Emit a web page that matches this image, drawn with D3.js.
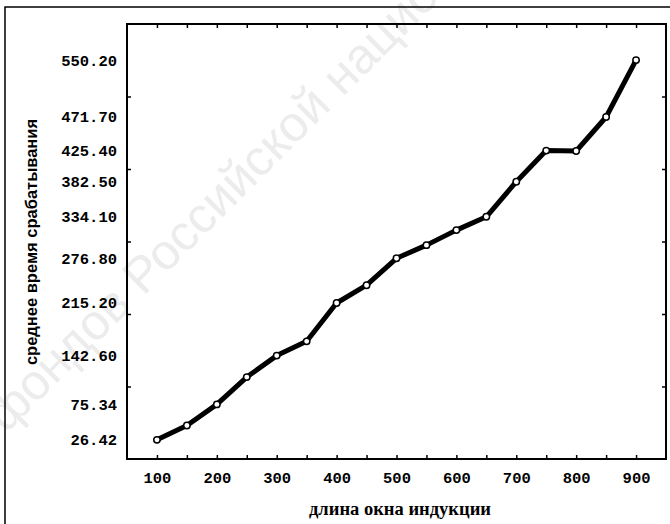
<!DOCTYPE html>
<html>
<head>
<meta charset="utf-8">
<script src="https://cdn.jsdelivr.net/npm/d3@7"></script>
<style>
	body { margin: 0; background: #fff; }
	svg { display: block; }
	.tick text { font-family: "Liberation Mono", monospace; font-weight: bold; font-size: 15.5px; fill: #000; }
	.tick line { stroke: #000; stroke-width: 1.5; }
</style>
</head>
<body>
<svg width="670" height="524"></svg>
<script>

// длина окна индукции
var winLen = [100, 150, 200, 250, 300, 350, 400, 450, 500, 550, 600, 650, 700, 750, 800, 850, 900];

// среднее время срабатывания
var avgTime = [26.42, 46.2, 75.34, 113.0, 142.60, 162.3, 215.20, 239.7, 276.80, 295.0, 315.7, 334.10, 382.50, 425.40, 424.8, 471.70, 550.20];

var yLabels = [26.42, 75.34, 142.60, 215.20, 276.80, 334.10, 382.50, 425.40, 471.70, 550.20];
var yTicks = [100, 200, 300, 400, 500];
var xLabels = [100, 200, 300, 400, 500, 600, 700, 800, 900];

var box = {
	left: 127,
	top: 24,
	right: 666,
	bottom: 459
};

var svg = d3.select("svg");

// watermark of the scan
svg.append("text")
	.attr("transform", "translate(6,434) rotate(-45)")
	.attr("font-family", "Liberation Sans, sans-serif")
	.attr("font-size", 50)
	.attr("fill", "#ececec")
	.text("фондов Российской национ");

// outer frame
svg.append("path")
	.attr("d", "M5,524 L5,7 L670,7")
	.attr("fill", "none")
	.attr("stroke", "#000")
	.attr("stroke-width", 1.5);

var x = d3.scaleLinear().domain([50, 950]).range([box.left, box.right]);
var y = d3.scaleLinear().domain([0, 600]).range([box.bottom, box.top]);

// bottom ticks + labels
svg.append("g")
	.attr("transform", `translate(0,${box.bottom})`)
	.call(d3.axisBottom(x)
		.tickValues(winLen)
		.tickSizeInner(-4)
		.tickSizeOuter(0)
		.tickPadding(13)
		.tickFormat(d => xLabels.includes(d) ? d : ""))
	.call(g => g.select(".domain").remove());

// top ticks
svg.append("g")
	.attr("transform", `translate(0,${box.top})`)
	.call(d3.axisTop(x)
		.tickValues(winLen)
		.tickSizeInner(-4)
		.tickSizeOuter(0)
		.tickFormat(""))
	.call(g => g.select(".domain").remove());

// left labels (at data values)
svg.append("g")
	.attr("transform", `translate(${box.left},0)`)
	.call(d3.axisLeft(y)
		.tickValues(yLabels)
		.tickSize(0)
		.tickPadding(10)
		.tickFormat(d3.format(".2f")))
	.call(g => g.select(".domain").remove());

// left and right ticks
svg.append("g")
	.attr("transform", `translate(${box.left},0)`)
	.call(d3.axisLeft(y).tickValues(yTicks).tickSizeInner(-4).tickSizeOuter(0).tickFormat(""))
	.call(g => g.select(".domain").remove());

svg.append("g")
	.attr("transform", `translate(${box.right},0)`)
	.call(d3.axisRight(y).tickValues(yTicks).tickSizeInner(-4).tickSizeOuter(0).tickFormat(""))
	.call(g => g.select(".domain").remove());

// plot frame
svg.append("rect")
	.attr("x", box.left)
	.attr("y", box.top)
	.attr("width", box.right - box.left)
	.attr("height", box.bottom - box.top)
	.attr("fill", "none")
	.attr("stroke", "#000")
	.attr("stroke-width", 2);

var pts = winLen.map((d, i) => [d, avgTime[i]]);

svg.append("path")
	.datum(pts)
	.attr("d", d3.line(d => x(d[0]), d => y(d[1])))
	.attr("fill", "none")
	.attr("stroke", "#000")
	.attr("stroke-width", 5)
	.attr("stroke-linejoin", "round");

svg.selectAll(".pt")
	.data(pts)
	.join("circle")
	.classed("pt", true)
	.attr("cx", d => x(d[0]))
	.attr("cy", d => y(d[1]))
	.attr("r", 3.2)
	.attr("fill", "#fff")
	.attr("stroke", "#000")
	.attr("stroke-width", 1.5);

// axis titles
svg.append("text")
	.attr("transform", "translate(37,242) rotate(-90)")
	.attr("text-anchor", "middle")
	.attr("font-family", "Liberation Sans, Arial, sans-serif")
	.attr("font-weight", "bold")
	.attr("font-size", 16.5)
	.text("среднее время срабатывания");

svg.append("text")
	.attr("x", 400)
	.attr("y", 515)
	.attr("text-anchor", "middle")
	.attr("font-family", "Liberation Serif, Times New Roman, serif")
	.attr("font-weight", "bold")
	.attr("font-size", 18.5)
	.text("длина окна индукции");

</script>
</body>
</html>
